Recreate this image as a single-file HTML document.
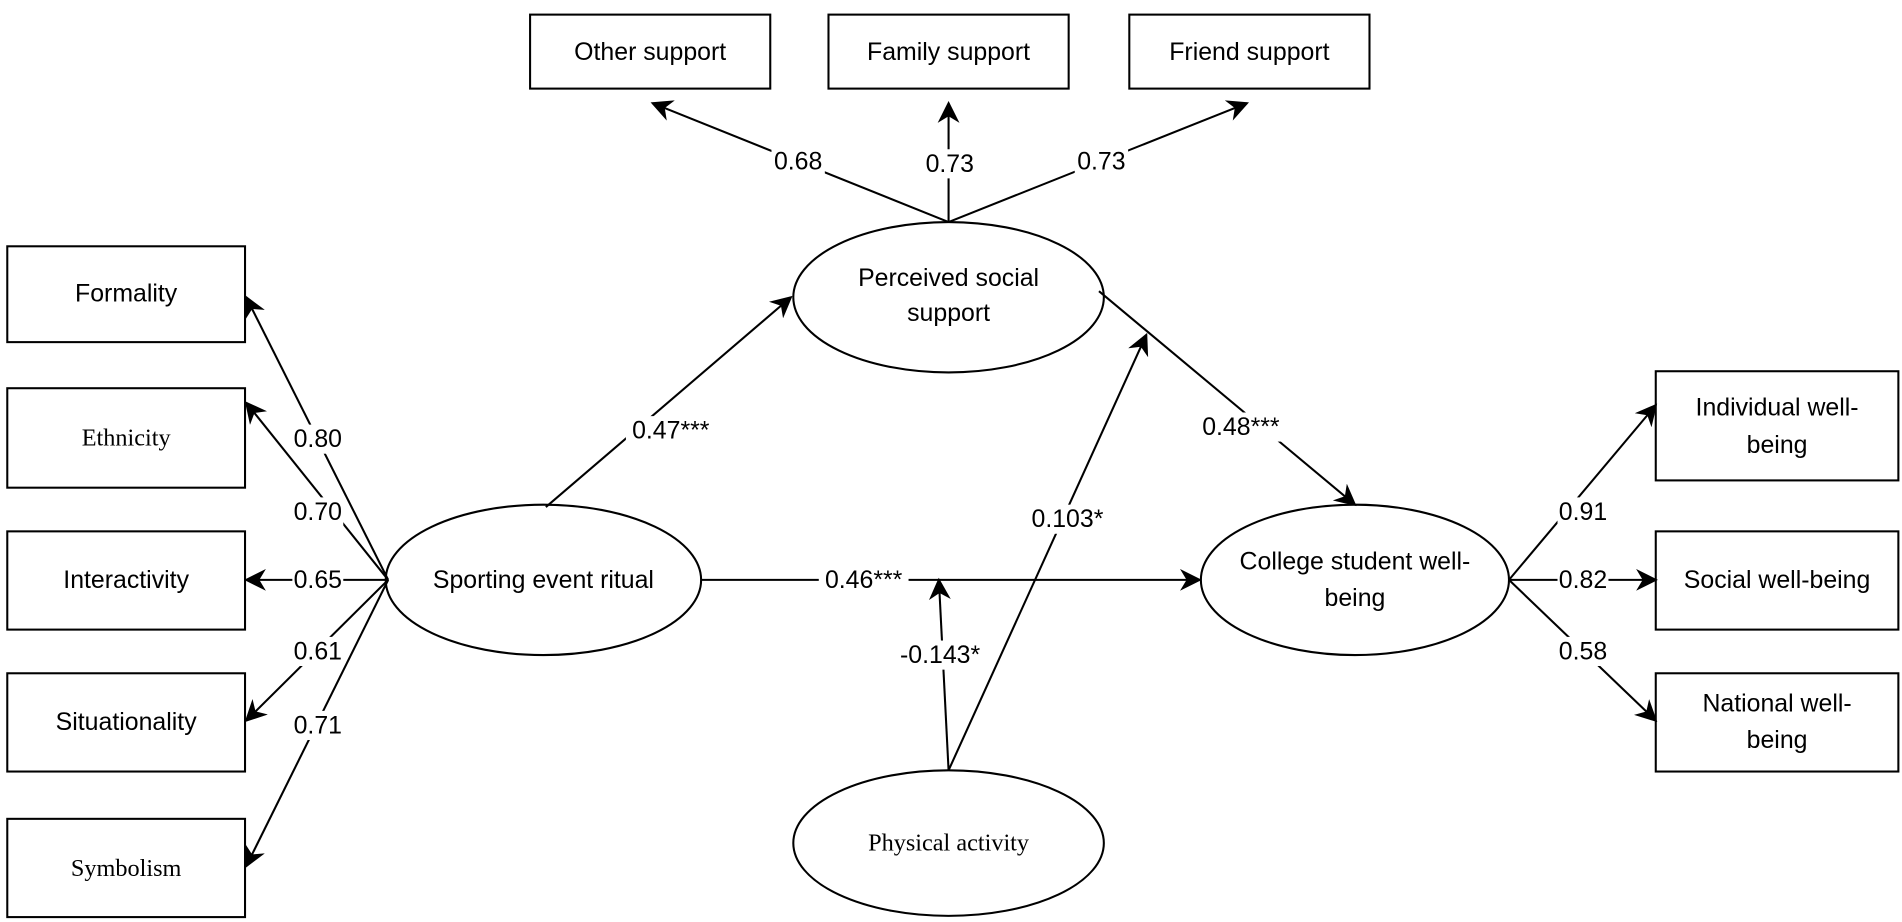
<!DOCTYPE html>
<html><head><meta charset="utf-8"><style>html,body{margin:0;padding:0;background:#fff}svg{display:block}</style></head><body>
<svg width="1902" height="922" viewBox="0 0 1568 760" xmlns="http://www.w3.org/2000/svg">
<defs><marker id="b" viewBox="0 0 10 10" refX="9" refY="5" markerWidth="18" markerHeight="18" markerUnits="userSpaceOnUse" orient="auto"><path d="M0,0 L10,5 L0,10 L3,5 z" fill="#000"/></marker></defs>
<g fill="#fff" stroke="#000" stroke-width="1.7">
<rect x="6" y="203" width="196" height="79"/><rect x="6" y="320" width="196" height="82"/><rect x="6" y="438" width="196" height="81"/><rect x="6" y="555" width="196" height="81"/><rect x="6" y="675" width="196" height="81"/>
<rect x="437" y="12" width="198" height="61"/><rect x="683" y="12" width="198" height="61"/><rect x="931" y="12" width="198" height="61"/>
<rect x="1365" y="306" width="200" height="90"/><rect x="1365" y="438" width="200" height="81"/><rect x="1365" y="555" width="200" height="81"/>
<ellipse cx="448" cy="478" rx="130" ry="62"/><ellipse cx="782" cy="245" rx="128" ry="62"/><ellipse cx="1117" cy="478" rx="127" ry="62"/><ellipse cx="782" cy="695" rx="128" ry="60"/>
</g>
<g stroke="#000" stroke-width="1.7" fill="none" marker-end="url(#b)">
<line x1="320" y1="478" x2="203" y2="245"/><line x1="320" y1="478" x2="203" y2="332"/><line x1="320" y1="478" x2="203" y2="478"/><line x1="320" y1="478" x2="203" y2="594"/><line x1="320" y1="478" x2="203" y2="714"/>
<line x1="782" y1="183" x2="538" y2="85"/><line x1="782" y1="183" x2="782" y2="85"/><line x1="782" y1="183" x2="1028" y2="85"/>
<line x1="450" y1="418" x2="652" y2="245"/><line x1="906" y1="240" x2="1117" y2="416"/><line x1="578" y1="478" x2="989" y2="478"/>
<line x1="782" y1="635" x2="774" y2="478"/><line x1="782" y1="635" x2="945" y2="276"/>
<line x1="1244" y1="478" x2="1365" y2="334"/><line x1="1244" y1="478" x2="1365" y2="478"/><line x1="1244" y1="478" x2="1365" y2="594"/>
</g>
<g font-family="Liberation Sans, sans-serif" font-size="20.5" text-anchor="middle" dominant-baseline="central">
<g fill="#fff"><rect x="241" y="350" width="42" height="24"/><rect x="241" y="410" width="42" height="24"/><rect x="241" y="466" width="42" height="24"/><rect x="241" y="525" width="42" height="24"/><rect x="241" y="586" width="42" height="24"/>
<rect x="636" y="121" width="44" height="24"/><rect x="761" y="123" width="44" height="24"/><rect x="886" y="121" width="44" height="24"/>
<rect x="516" y="343" width="74" height="24"/><rect x="986" y="340" width="74" height="24"/><rect x="675" y="466" width="74" height="24"/>
<rect x="735" y="528" width="80" height="24"/><rect x="846" y="416" width="68" height="24"/>
<rect x="1284" y="410" width="42" height="24"/><rect x="1284" y="466" width="42" height="24"/><rect x="1284" y="525" width="42" height="24"/></g>
<text x="262" y="362">0.80</text><text x="262" y="422">0.70</text><text x="262" y="478">0.65</text><text x="262" y="537">0.61</text><text x="262" y="598">0.71</text>
<text x="658" y="133">0.68</text><text x="783" y="135">0.73</text><text x="908" y="133">0.73</text>
<text x="553" y="355">0.47***</text><text x="1023" y="352">0.48***</text><text x="712" y="478">0.46***</text>
<text x="775" y="540">-0.143*</text><text x="880" y="428">0.103*</text>
<text x="1305" y="422">0.91</text><text x="1305" y="478">0.82</text><text x="1305" y="537">0.58</text>
<text x="104" y="242">Formality</text><text x="104" y="478">Interactivity</text><text x="104" y="595">Situationality</text>
<text x="536" y="43">Other support</text><text x="782" y="43">Family support</text><text x="1030" y="43">Friend support</text>
<text x="448" y="478">Sporting event ritual</text>
<text x="782" y="229">Perceived social</text><text x="782" y="258">support</text>
<text x="1117" y="463">College student well-</text><text x="1117" y="493">being</text>
<text x="1465" y="336">Individual well-</text><text x="1465" y="367">being</text>
<text x="1465" y="478">Social well-being</text>
<text x="1465" y="580">National well-</text><text x="1465" y="610">being</text>
<g font-family="Liberation Serif, serif" font-size="20"><text x="104" y="361">Ethnicity</text><text x="104" y="716">Symbolism</text><text x="782" y="695">Physical activity</text></g>
</g>
</svg>
</body></html>
